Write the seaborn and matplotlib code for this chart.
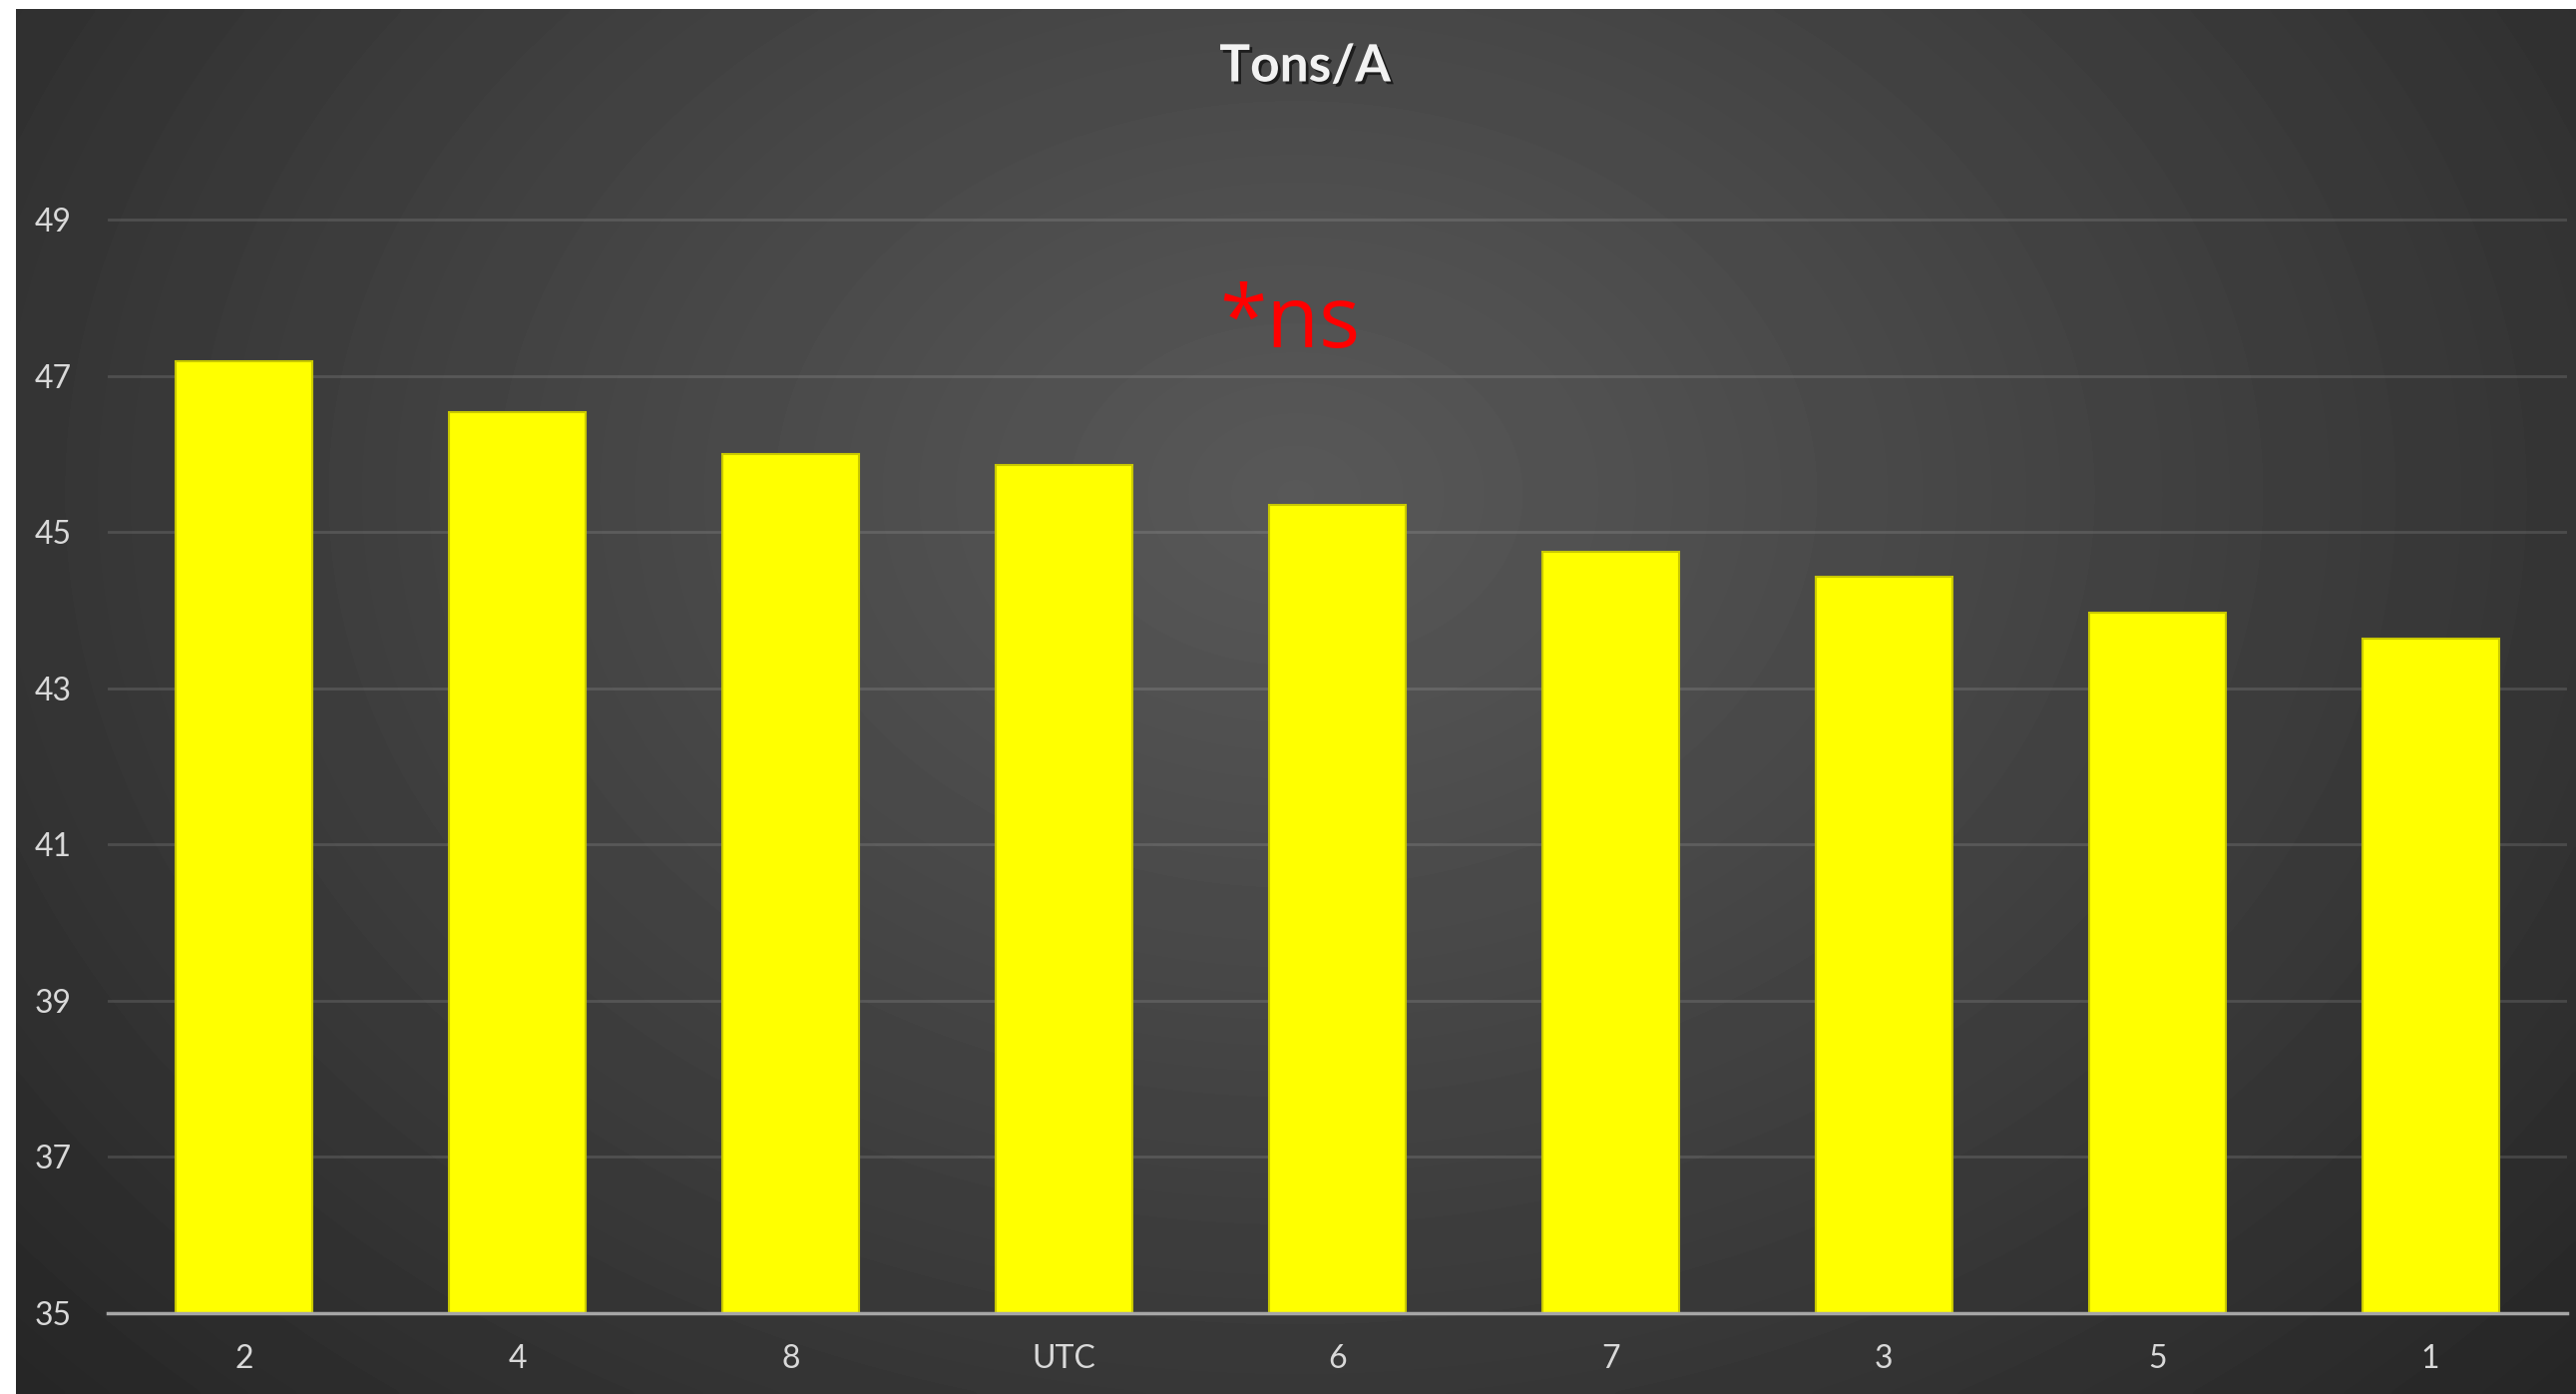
import numpy as np
import pandas as pd
import matplotlib
matplotlib.use("Agg")
import matplotlib.pyplot as plt
import matplotlib.patheffects as pe
import seaborn as sns

# values
groups = ["2", "4", "8", "UTC", "6", "7", "3", "5", "1"]
tons_per_acre = [47.18, 46.53, 46.00, 45.86, 45.34, 44.75, 44.43, 43.97, 43.64]
y_ticks = [35, 37, 39, 41, 43, 45, 47, 49]

df = pd.DataFrame({"group": groups, "tons": tons_per_acre})

sns.set_theme(style="dark")
plt.rcParams["font.family"] = ["Lato", "DejaVu Sans"]

W, H = 2582, 1397
fig = plt.figure(figsize=(W / 100, H / 100), dpi=100, facecolor="white")

# dark radial-gradient background (chart area)
bg = fig.add_axes([16 / W, 0, 1 - 16 / W, 1388 / H], zorder=0)
gx, gy = np.meshgrid(np.linspace(0, 1, 600), np.linspace(0, 1, 330))
d = np.sqrt(((gx - 0.5) / 0.68) ** 2 + ((gy - 0.35) / 0.95) ** 2)
d = np.clip(d, 0, 1)
shade = (88 - 50 * d ** 1.1) / 255.0
bg.imshow(shade, cmap="gray", vmin=0, vmax=1, aspect="auto",
          extent=[0, 1, 0, 1], interpolation="bicubic")
bg.set_axis_off()

ax = fig.add_axes([108 / W, 81 / H, (2573 - 108) / W, (1316 - 102.5) / H], zorder=1)
ax.set_facecolor("none")

sns.barplot(data=df, x="group", y="tons", color="#FFFF00", width=0.5,
            edgecolor="#C8C800", linewidth=1.5, saturation=1, ax=ax, zorder=3)

ax.set_ylim(35, 50.5)
ax.set_xlim(-0.5, len(groups) - 0.5)
ax.set_yticks(y_ticks)
ax.set_yticklabels([str(t) for t in y_ticks])
ax.yaxis.grid(True, color="white", alpha=0.12, linewidth=2, zorder=0)
ax.xaxis.grid(False)
ax.set_xlabel("")
ax.set_ylabel("")
for s in ["top", "right", "left"]:
    ax.spines[s].set_visible(False)
ax.spines["bottom"].set_color("#A6A6A6")
ax.spines["bottom"].set_linewidth(2.5)
ax.spines["bottom"].set_zorder(4)
ax.tick_params(axis="y", length=0, pad=26, labelsize=23, labelcolor="#D9D9D9")
ax.tick_params(axis="x", length=0, pad=22, labelsize=23, labelcolor="#D9D9D9")

fig.text(1308 / W, 1 - 67 / H, "Tons/A", ha="center", va="center",
         fontsize=37, fontweight="bold", color="#F2F2F2",
         path_effects=[pe.withSimplePatchShadow(offset=(2, -2), shadow_rgbFace="black", alpha=0.6)])

fig.text(1293 / W, 1 - 348 / H, "*ns", ha="center", va="baseline",
         fontsize=62, color="#FF0000", family=["Open Sans", "DejaVu Sans"])

fig.savefig("out.png", dpi=100, facecolor="white")
